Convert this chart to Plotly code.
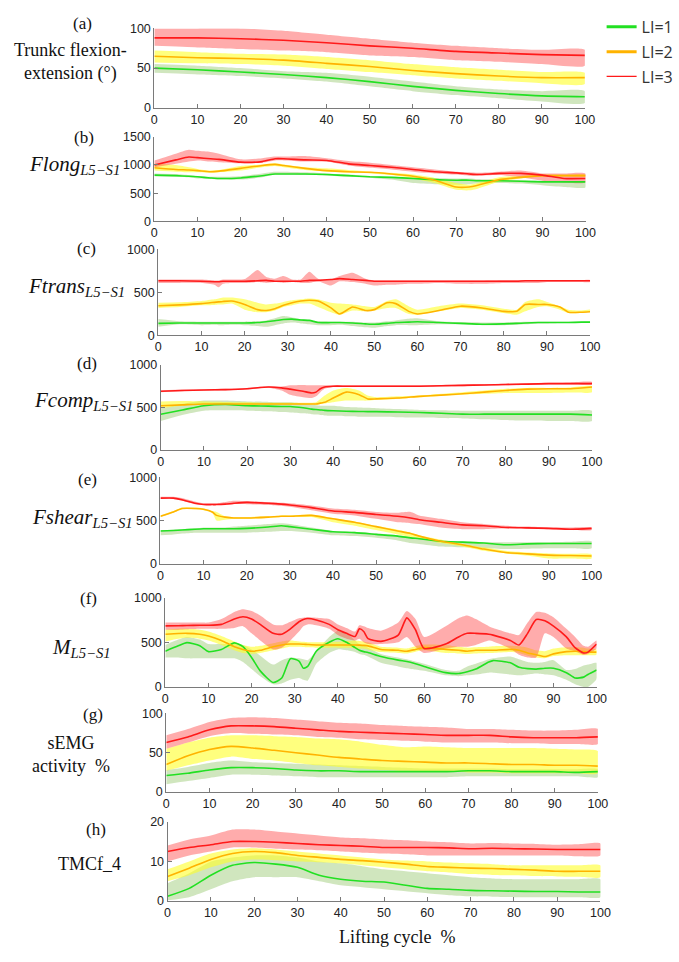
import plotly.graph_objects as go

# ---------------- data: mean curve with lower/upper band per lifting index ----------------
# (a) trunk flexion-extension (deg)
A_X = [0, 10, 20, 30, 40, 50, 60, 70, 80, 90, 100]
A_R = [88, 88, 87, 85, 82, 78, 75, 71, 69, 67, 66]
A_R_HI = [100, 100, 100, 97, 92, 87, 82, 78, 75, 73, 73]
A_R_LO = [78, 76, 74, 72, 70, 66, 64, 60, 58, 55, 53]
A_Y = [65, 63, 62, 60, 56, 52, 47, 43, 40, 38, 38]
A_Y_HI = [72, 70, 68, 67, 64, 60, 55, 51, 48, 45, 44]
A_Y_LO = [57, 56, 55, 53, 49, 45, 41, 37, 34, 31, 30]
A_G = [50, 48, 45, 42, 38, 33, 27, 22, 18, 15, 14]
A_G_HI = [55, 53, 50, 46, 44, 39, 33, 27, 23, 21, 21]
A_G_LO = [44, 42, 40, 37, 33, 27, 21, 16, 12, 8, 6]

# (b) Flong L5-S1
B_X = [0, 5, 8, 10, 13, 15, 20, 25, 28, 30, 35, 40, 45, 50, 55, 60, 65, 70, 73, 75, 80, 85, 90, 95, 100]
B_R = [1000, 1090, 1140, 1130, 1110, 1100, 1050, 1060, 1110, 1110, 1090, 1080, 1020, 990, 960, 920, 880, 860, 840, 830, 850, 850, 820, 760, 760]
B_R_HI = [1080, 1200, 1270, 1250, 1230, 1200, 1100, 1120, 1150, 1150, 1160, 1120, 1070, 1040, 1000, 960, 920, 880, 870, 860, 880, 900, 850, 850, 850]
B_R_LO = [960, 1020, 1060, 1080, 1060, 1050, 1030, 1040, 1080, 1080, 1060, 1060, 990, 950, 920, 880, 850, 830, 810, 810, 820, 780, 720, 690, 690]
B_Y = [950, 920, 910, 900, 880, 890, 940, 990, 1010, 990, 940, 900, 880, 870, 840, 800, 730, 610, 610, 640, 740, 780, 810, 810, 810]
B_Y_HI = [1020, 1000, 960, 930, 900, 910, 980, 1010, 1030, 1010, 960, 940, 910, 880, 860, 830, 770, 680, 650, 680, 780, 810, 830, 830, 830]
B_Y_LO = [900, 880, 870, 870, 860, 870, 900, 960, 980, 960, 910, 880, 860, 850, 820, 760, 680, 560, 550, 580, 700, 760, 790, 790, 790]
B_G = [820, 810, 800, 790, 770, 760, 770, 810, 840, 840, 840, 830, 810, 790, 780, 760, 740, 730, 730, 720, 720, 710, 700, 700, 700]
B_G_HI = [850, 840, 820, 800, 790, 790, 800, 850, 880, 880, 870, 850, 830, 800, 790, 780, 770, 760, 760, 750, 740, 730, 720, 700, 690]
B_G_LO = [800, 790, 780, 760, 750, 740, 740, 780, 830, 830, 820, 810, 790, 770, 740, 680, 660, 650, 660, 670, 680, 670, 640, 610, 600]

# (c) Ftrans L5-S1
C_X = [0, 5, 10, 13, 14, 15, 17, 20, 23, 25, 27, 29, 31, 33, 35, 37, 40, 42, 45, 48, 50, 53, 55, 58, 60,
       65, 70, 75, 80, 83, 85, 88, 90, 93, 95, 98, 100]
C_R = [635, 635, 630, 625, 625, 630, 630, 630, 635, 640, 630, 630, 630, 630, 640, 640, 650, 660, 650, 640, 630, 630, 630, 630, 630,
       630, 630, 630, 630, 630, 635, 635, 635, 635, 635, 635, 635]
C_R_HI = [650, 650, 650, 640, 640, 650, 650, 655, 760, 680, 660, 690, 650, 650, 740, 660, 650, 690, 730, 660, 640, 640, 640, 640, 640,
          640, 640, 640, 645, 645, 645, 645, 645, 645, 645, 645, 645]
C_R_LO = [610, 610, 610, 590, 560, 600, 610, 610, 620, 610, 620, 610, 620, 610, 610, 630, 580, 630, 620, 600, 580, 590, 590, 600, 600,
          610, 600, 600, 610, 610, 610, 610, 620, 620, 620, 620, 620]
C_Y = [345, 355, 370, 385, 390, 395, 400, 360, 300, 290, 310, 350, 380, 400, 410, 400, 320, 250, 330, 290, 300, 380, 370, 280, 250,
       290, 340, 320, 280, 280, 360, 360, 360, 330, 270, 270, 275]
C_Y_HI = [380, 385, 400, 420, 430, 440, 440, 420, 380, 360, 370, 390, 410, 420, 430, 420, 380, 370, 360, 340, 330, 400, 420, 340, 300,
          340, 370, 350, 310, 300, 390, 420, 390, 340, 300, 290, 300]
C_Y_LO = [320, 330, 350, 355, 360, 360, 370, 300, 270, 270, 290, 330, 350, 370, 370, 330, 270, 240, 290, 280, 290, 320, 320, 250, 240,
          280, 320, 300, 260, 240, 280, 330, 340, 300, 260, 260, 280]
C_G = [140, 145, 145, 145, 145, 145, 145, 145, 150, 160, 170, 185, 190, 180, 175, 150, 150, 150, 145, 135, 130, 140, 150, 155, 160,
       150, 140, 130, 135, 140, 145, 150, 150, 150, 150, 155, 155]
C_G_HI = [190, 165, 160, 160, 160, 160, 160, 160, 165, 175, 200, 225, 210, 190, 180, 165, 160, 160, 160, 150, 150, 165, 175, 195, 200,
          165, 155, 150, 150, 155, 160, 160, 160, 160, 160, 160, 160]
C_G_LO = [100, 130, 120, 125, 120, 120, 125, 120, 110, 100, 120, 140, 150, 140, 130, 120, 120, 125, 110, 95, 90, 110, 120, 120, 120,
          130, 130, 120, 120, 125, 130, 140, 140, 145, 145, 150, 150]

# (d) Fcomp L5-S1
D_X = [0, 5, 10, 15, 20, 25, 28, 30, 33, 35, 36, 37, 38, 40, 43, 46, 48, 50, 55, 60, 65, 70, 75, 80, 85, 90, 95, 100]
D_R = [690, 700, 705, 710, 720, 740, 730, 715, 690, 670, 680, 720, 740, 750, 750, 750, 750, 750, 750, 750, 755, 760, 765, 770, 775, 780, 780, 780]
D_R_HI = [700, 710, 715, 720, 730, 750, 745, 760, 765, 760, 760, 760, 760, 760, 760, 760, 760, 760, 760, 760, 765, 770, 775, 780, 785, 790, 795, 800]
D_R_LO = [680, 690, 695, 700, 710, 730, 700, 650, 620, 610, 630, 680, 720, 740, 740, 740, 740, 740, 740, 740, 745, 750, 755, 760, 765, 770, 770, 770]
D_Y = [520, 530, 540, 540, 540, 540, 540, 540, 540, 540, 540, 550, 560, 610, 680, 650, 600, 600, 610, 630, 645, 660, 680, 700, 715, 720, 720, 740]
D_Y_HI = [570, 575, 570, 565, 560, 555, 555, 555, 555, 555, 560, 600, 640, 700, 730, 700, 640, 620, 630, 640, 660, 680, 700, 720, 730, 730, 735, 750]
D_Y_LO = [490, 520, 540, 535, 530, 530, 530, 530, 530, 530, 530, 540, 545, 560, 580, 580, 580, 590, 600, 620, 635, 650, 660, 670, 670, 670, 675, 680]
D_G = [420, 470, 520, 535, 520, 515, 510, 510, 495, 480, 475, 470, 465, 460, 455, 452, 450, 450, 445, 440, 430, 420, 420, 420, 420, 420, 420, 410]
D_G_HI = [490, 540, 580, 580, 570, 565, 560, 560, 545, 530, 525, 520, 520, 520, 505, 500, 495, 490, 480, 470, 465, 460, 460, 460, 460, 460, 460, 460]
D_G_LO = [340, 410, 460, 465, 460, 455, 445, 440, 430, 420, 415, 410, 405, 400, 395, 390, 390, 390, 385, 380, 375, 370, 360, 350, 345, 340, 340, 340]

# (e) Fshear L5-S1
E_X = [0, 3, 5, 8, 10, 12, 13, 15, 17, 20, 25, 28, 30, 35, 40, 45, 50, 55, 58, 60, 65, 70, 75, 80, 85, 90, 95, 100]
E_R = [760, 760, 740, 700, 685, 685, 685, 690, 700, 710, 700, 690, 680, 650, 610, 595, 570, 550, 530, 510, 480, 450, 440, 420, 415, 410, 400, 410]
E_R_HI = [775, 775, 760, 720, 700, 700, 700, 715, 730, 725, 715, 705, 700, 675, 640, 625, 600, 590, 600, 560, 520, 480, 460, 440, 430, 420, 420, 420]
E_R_LO = [750, 750, 730, 690, 680, 680, 680, 680, 690, 690, 680, 670, 660, 620, 580, 560, 520, 480, 470, 460, 420, 400, 400, 410, 405, 400, 390, 390]
E_Y = [550, 600, 640, 640, 630, 600, 560, 540, 530, 530, 540, 550, 550, 560, 520, 480, 430, 380, 350, 320, 260, 220, 170, 130, 115, 100, 95, 90]
E_Y_HI = [560, 610, 650, 650, 640, 610, 600, 550, 540, 540, 550, 560, 560, 570, 530, 490, 440, 395, 360, 330, 280, 230, 190, 150, 130, 120, 115, 110]
E_Y_LO = [540, 590, 630, 630, 620, 590, 500, 510, 520, 520, 530, 540, 540, 540, 480, 440, 390, 340, 310, 290, 240, 200, 150, 120, 95, 60, 60, 60]
E_G = [380, 385, 390, 400, 405, 405, 405, 405, 405, 410, 425, 440, 430, 400, 370, 360, 340, 320, 300, 290, 260, 250, 240, 220, 230, 235, 235, 235]
E_G_HI = [390, 395, 400, 410, 420, 420, 420, 420, 430, 440, 460, 470, 460, 420, 380, 370, 350, 330, 310, 300, 270, 260, 250, 250, 250, 250, 255, 260]
E_G_LO = [330, 340, 350, 360, 360, 360, 360, 360, 360, 360, 370, 380, 380, 360, 330, 320, 300, 270, 240, 230, 200, 190, 180, 170, 175, 180, 180, 180]

# (f) M L5-S1
F_X = [0, 3, 5, 8, 10, 13, 16, 18, 20, 22, 25, 27, 29, 31, 32, 33, 35, 38, 40, 42, 44, 45, 46, 47, 50, 54, 56, 58, 60,
       65, 68, 70, 72, 75, 76, 80, 82, 84, 86, 88, 90, 93, 95, 97, 98, 100]
F_R = [683, 685, 688, 690, 690, 700, 760, 785, 760, 700, 600, 590, 650, 730, 755, 766, 750, 700, 640, 600, 565, 650, 620, 540, 510, 580, 773, 640, 430,
       480, 560, 600, 600, 590, 580, 520, 470, 600, 755, 740, 680, 560, 440, 380, 390, 480]
F_R_HI = [720, 720, 720, 720, 720, 760, 840, 870, 850, 800, 700, 690, 730, 770, 775, 780, 775, 760, 700, 660, 620, 690, 680, 660, 630, 720, 850, 760, 560,
          680, 770, 800, 760, 680, 660, 600, 580, 720, 840, 830, 780, 650, 560, 460, 450, 520]
F_R_LO = [640, 640, 645, 650, 650, 650, 660, 680, 600, 520, 420, 440, 520, 620, 680, 700, 690, 650, 580, 540, 520, 540, 500, 480, 480, 500, 560, 450, 380,
          430, 450, 450, 470, 520, 510, 430, 360, 330, 330, 600, 560, 430, 400, 360, 370, 430]
F_Y = [590, 598, 600, 590, 570, 520, 450, 420, 400, 410, 450, 470, 480, 480, 478, 475, 470, 470, 470, 470, 470, 468, 465, 460, 420, 410, 400, 420, 440,
       420, 410, 400, 410, 410, 410, 420, 410, 380, 360, 340, 370, 395, 400, 395, 390, 390]
F_Y_HI = [640, 650, 650, 640, 620, 570, 510, 470, 450, 460, 490, 510, 520, 510, 505, 500, 500, 500, 505, 515, 520, 515, 510, 500, 450, 440, 430, 455, 475,
          470, 450, 440, 445, 450, 455, 460, 455, 440, 410, 400, 430, 445, 445, 440, 430, 420]
F_Y_LO = [510, 540, 550, 540, 520, 470, 410, 380, 370, 380, 410, 430, 450, 450, 448, 445, 440, 440, 440, 438, 432, 430, 428, 420, 390, 380, 375, 395, 410,
          380, 375, 370, 375, 380, 380, 390, 380, 350, 330, 320, 345, 355, 355, 355, 355, 360]
F_G = [400, 460, 496, 460, 395, 420, 493, 450, 330, 180, 50, 100, 316, 290, 210, 230, 400, 500, 540, 500, 440, 410, 395, 385, 340, 300, 285, 260, 230,
       160, 150, 170, 200, 280, 295, 270, 220, 205, 200, 210, 210, 160, 100, 110, 140, 190]
F_G_HI = [470, 530, 560, 530, 480, 480, 480, 470, 420, 350, 250, 300, 330, 320, 310, 300, 400, 560, 630, 600, 520, 480, 460, 440, 370, 330, 310, 285, 260,
          190, 180, 230, 260, 310, 320, 340, 310, 280, 270, 280, 300, 190, 200, 240, 250, 270]
F_G_LO = [330, 330, 320, 320, 320, 320, 320, 280, 200, 120, 30, 40, 80, 100, 80, 70, 260, 380, 420, 410, 390, 370, 360, 340, 270, 230, 210, 195, 180,
          130, 120, 130, 140, 160, 160, 140, 130, 140, 150, 140, 130, 80, 30, 0, 0, 90]

# (g) sEMG activity %
G_X = [0, 5, 10, 15, 20, 25, 30, 35, 40, 45, 50, 55, 60, 65, 70, 75, 80, 85, 90, 95, 100]
G_R = [63, 70, 79, 84, 84, 83, 81, 79, 77, 76, 75, 74, 73, 72, 72, 72, 70, 69, 69, 69, 70]
G_R_HI = [72, 80, 89, 94, 95, 94, 92, 90, 88, 87, 85, 84, 83, 82, 80, 80, 79, 78, 78, 79, 80]
G_R_LO = [55, 63, 71, 75, 74, 73, 72, 70, 69, 67, 66, 65, 64, 63, 63, 63, 62, 62, 61, 61, 61]
G_Y = [35, 46, 54, 58, 56, 53, 50, 47, 44, 42, 40, 39, 38, 37, 37, 36, 35, 35, 34, 34, 33]
G_Y_HI = [55, 63, 69, 72, 72, 71, 70, 68, 67, 64, 60, 57, 58, 57, 56, 56, 56, 56, 55, 54, 52]
G_Y_LO = [27, 34, 40, 45, 42, 40, 37, 34, 32, 30, 28, 27, 26, 26, 25, 25, 24, 24, 24, 24, 24]
G_G = [21, 24, 28, 31, 31, 30, 28, 27, 27, 26, 26, 26, 26, 26, 27, 27, 26, 26, 26, 25, 26]
G_G_HI = [28, 32, 37, 40, 38, 37, 36, 35, 34, 33, 32, 31, 30, 30, 30, 30, 29, 29, 29, 29, 29]
G_G_LO = [10, 14, 18, 22, 22, 21, 20, 19, 19, 19, 19, 19, 19, 19, 20, 20, 20, 20, 20, 20, 19]

# (h) TMCf_4
H_X = [0, 5, 10, 15, 20, 25, 30, 35, 40, 45, 50, 55, 60, 65, 70, 75, 80, 85, 90, 95, 100]
H_R = [12.5, 13.5, 14.2, 15, 15, 14.8, 14.5, 14.2, 14, 13.8, 13.5, 13.5, 13.5, 13.4, 13.2, 13.3, 13.2, 13.1, 13, 13, 13]
H_R_HI = [14, 15.5, 16.5, 18, 18, 17.5, 17, 16.5, 16, 15.8, 15.5, 15.3, 15, 14.8, 14.5, 14.6, 14.5, 14.4, 14.2, 14.3, 14.5]
H_R_LO = [10, 11.5, 12.5, 13.5, 13.5, 13.2, 13, 12.8, 12.5, 12.2, 12, 11.8, 11.5, 11.5, 11.5, 11.5, 11.5, 11.5, 11.5, 11.3, 11.5]
H_Y = [6.2, 8.3, 10.5, 12, 12.5, 12.2, 11.5, 11, 10.5, 10.2, 9.8, 9.3, 8.7, 8.5, 8.3, 8.2, 8, 7.8, 7.5, 7.5, 7.5]
H_Y_HI = [8, 10, 12, 13, 13.3, 13, 12.5, 12, 11.5, 11, 10.5, 10.2, 10, 9.7, 9.5, 9.3, 9, 9, 9, 9, 9]
H_Y_LO = [5, 6.5, 8.5, 10, 10.5, 10.3, 10, 9.8, 9.5, 9, 8.5, 8, 7.5, 7.2, 6.8, 6.6, 6.5, 6.3, 6.2, 6.1, 6]
H_G = [1.2, 3.2, 6.5, 9, 9.7, 9.3, 8.5, 6.5, 5.5, 5, 4.8, 4, 3.2, 3, 2.7, 2.6, 2.5, 2.4, 2.4, 2.3, 2.3]
H_G_HI = [4.5, 7, 10, 11, 11.5, 11.5, 11, 10, 9.5, 8.8, 8, 7.5, 7, 6.5, 6, 5.7, 5.5, 5.5, 5.5, 5.5, 5.5]
H_G_LO = [0.2, 1, 3, 5, 6, 6, 6, 5, 4, 3.5, 3, 2.5, 2, 1.5, 1.2, 1.1, 1, 1, 1, 1, 1]

LEVELS = ["LI=1", "LI=2", "LI=3"]
X_TICKS = [0, 10, 20, 30, 40, 50, 60, 70, 80, 90, 100]

# ---------------- styling ----------------
W, H = 679, 962
LINE_COL = {"G": "#22e022", "Y": "#ffb300", "R": "#ff1a1a"}
BAND_COL = {"G": "rgba(150,200,110,0.45)", "Y": "rgba(255,255,40,0.6)", "R": "rgba(255,70,70,0.45)"}
AXIS_COL = "#7a7a7a"
TICK_FONT = dict(family="Liberation Sans, Arial", size=12.5, color="#222222")
SERIF = "Liberation Serif, Times New Roman"

# panel: x, series, y max, y ticks, pixel box (left, right, top, bottom)
panels = [
    (A_X, dict(G=(A_G, A_G_LO, A_G_HI), Y=(A_Y, A_Y_LO, A_Y_HI), R=(A_R, A_R_LO, A_R_HI)), 100, [0, 50, 100], (155.7, 598.6, 21.7, 102.3)),
    (B_X, dict(G=(B_G, B_G_LO, B_G_HI), Y=(B_Y, B_Y_LO, B_Y_HI), R=(B_R, B_R_LO, B_R_HI)), 1500, [0, 500, 1000, 1500], (155.7, 599.3, 131.7, 217.5)),
    (C_X, dict(G=(C_G, C_G_LO, C_G_HI), Y=(C_Y, C_Y_LO, C_Y_HI), R=(C_R, C_R_LO, C_R_HI)), 1000, [0, 500, 1000], (159.7, 604.0, 246.0, 333.3)),
    (D_X, dict(G=(D_G, D_G_LO, D_G_HI), Y=(D_Y, D_Y_LO, D_Y_HI), R=(D_R, D_R_LO, D_R_HI)), 1000, [0, 500, 1000], (162.3, 606.0, 363.3, 449.3)),
    (E_X, dict(G=(E_G, E_G_LO, E_G_HI), Y=(E_Y, E_Y_LO, E_Y_HI), R=(E_R, E_R_LO, E_R_HI)), 1000, [0, 500, 1000], (162.0, 605.7, 477.3, 565.0)),
    (F_X, dict(G=(F_G, F_G_LO, F_G_HI), Y=(F_Y, F_Y_LO, F_Y_HI), R=(F_R, F_R_LO, F_R_HI)), 1000, [0, 500, 1000], (167.0, 610.7, 599.3, 690.0)),
    (G_X, dict(G=(G_G, G_G_LO, G_G_HI), Y=(G_Y, G_Y_LO, G_Y_HI), R=(G_R, G_R_LO, G_R_HI)), 100, [0, 50, 100], (168.0, 612.0, 716.7, 796.7)),
    (H_X, dict(G=(H_G, H_G_LO, H_G_HI), Y=(H_Y, H_Y_LO, H_Y_HI), R=(H_R, H_R_LO, H_R_HI)), 20, [0, 10, 20], (169.3, 614.7, 826.7, 907.3)),
]

fig = go.Figure()
layout_axes = {}

for i, (xs, series, ymax, yticks, box) in enumerate(panels, start=1):
    xa = "x" if i == 1 else f"x{i}"
    ya = "y" if i == 1 else f"y{i}"
    left, right, top, bottom = box
    # confidence bands first, then mean curves on top
    for key in ("G", "Y", "R"):
        mean, lo, hi = series[key]
        fig.add_trace(go.Scatter(
            x=list(xs) + list(xs)[::-1], y=list(hi) + list(lo)[::-1],
            fill="toself", fillcolor=BAND_COL[key], line=dict(width=0, shape="spline", smoothing=0.6),
            mode="lines", hoverinfo="skip", showlegend=False, xaxis=xa, yaxis=ya))
    for key in ("G", "Y", "R"):
        mean, lo, hi = series[key]
        fig.add_trace(go.Scatter(
            x=xs, y=mean, mode="lines",
            line=dict(color=LINE_COL[key], width=1.6, shape="spline", smoothing=0.6),
            showlegend=False, xaxis=xa, yaxis=ya))
    axis_common = dict(showline=True, linecolor=AXIS_COL, linewidth=1, ticks="inside", ticklen=4,
                       tickcolor=AXIS_COL, showgrid=False, zeroline=False, tickfont=TICK_FONT)
    layout_axes["xaxis" if i == 1 else f"xaxis{i}"] = dict(
        domain=[left / W, right / W], range=[0, 100], tickvals=X_TICKS, anchor=ya, **axis_common)
    layout_axes["yaxis" if i == 1 else f"yaxis{i}"] = dict(
        domain=[1 - bottom / H, 1 - top / H], range=[0, ymax], tickvals=yticks, anchor=xa, **axis_common)

# legend entries (one group each so the row gap can be set)
for name, key, width in zip(LEVELS, ("G", "Y", "R"), (3, 3, 1.2)):
    fig.add_trace(go.Scatter(x=[None], y=[None], mode="lines", name=name, legendgroup=name,
                             line=dict(color=LINE_COL[key], width=width), showlegend=True))


def px_ann(text, x, y, size, family, xanchor="center", color="#111111"):
    return dict(text=text, x=x / W, y=1 - y / H, xref="paper", yref="paper", showarrow=False,
                xanchor=xanchor, yanchor="middle", font=dict(size=size, family=family, color=color), align="center")


sub = "<sub><i>L5−S1</i></sub>"
annotations = [
    px_ann("(a)", 82, 17, 17, SERIF),
    px_ann("(b)", 83, 132, 17, SERIF),
    px_ann("(c)", 86, 245, 17, SERIF),
    px_ann("(d)", 86, 362, 17, SERIF),
    px_ann("(e)", 87, 479, 17, SERIF),
    px_ann("(f)", 88, 600, 17, SERIF),
    px_ann("(g)", 93, 718, 17, SERIF),
    px_ann("(h)", 96, 835, 17, SERIF),
    px_ann("Trunkc flexion-<br>extension (°)", 69, 56, 18, SERIF),
    px_ann("<i>Flong</i>" + sub, 25, 160, 21, SERIF, xanchor="left"),
    px_ann("<i>Ftrans</i>" + sub, 24, 284, 21, SERIF, xanchor="left"),
    px_ann("<i>Fcomp</i>" + sub, 30, 400, 21, SERIF, xanchor="left"),
    px_ann("<i>Fshear</i>" + sub, 28, 519, 21, SERIF, xanchor="left"),
    px_ann("<i>M</i>" + sub, 48, 650, 21, SERIF, xanchor="left"),
    px_ann("sEMG<br>activity  %", 70, 759, 18, SERIF),
    px_ann("TMCf_4", 55, 870, 18, SERIF, xanchor="left"),
    px_ann("Lifting cycle  %", 405, 944, 18, SERIF),
]

fig.update_layout(
    width=W, height=H, margin=dict(l=0, r=0, t=0, b=0),
    paper_bgcolor="white", plot_bgcolor="white",
    annotations=annotations,
    legend=dict(x=0.907, y=1 - 3 / H, xanchor="left", yanchor="top", bgcolor="rgba(0,0,0,0)",
                font=dict(family="Open Sans", size=16, color="#333333"), tracegroupgap=1, itemwidth=30),
    **layout_axes,
)

fig.write_html("out.html")
